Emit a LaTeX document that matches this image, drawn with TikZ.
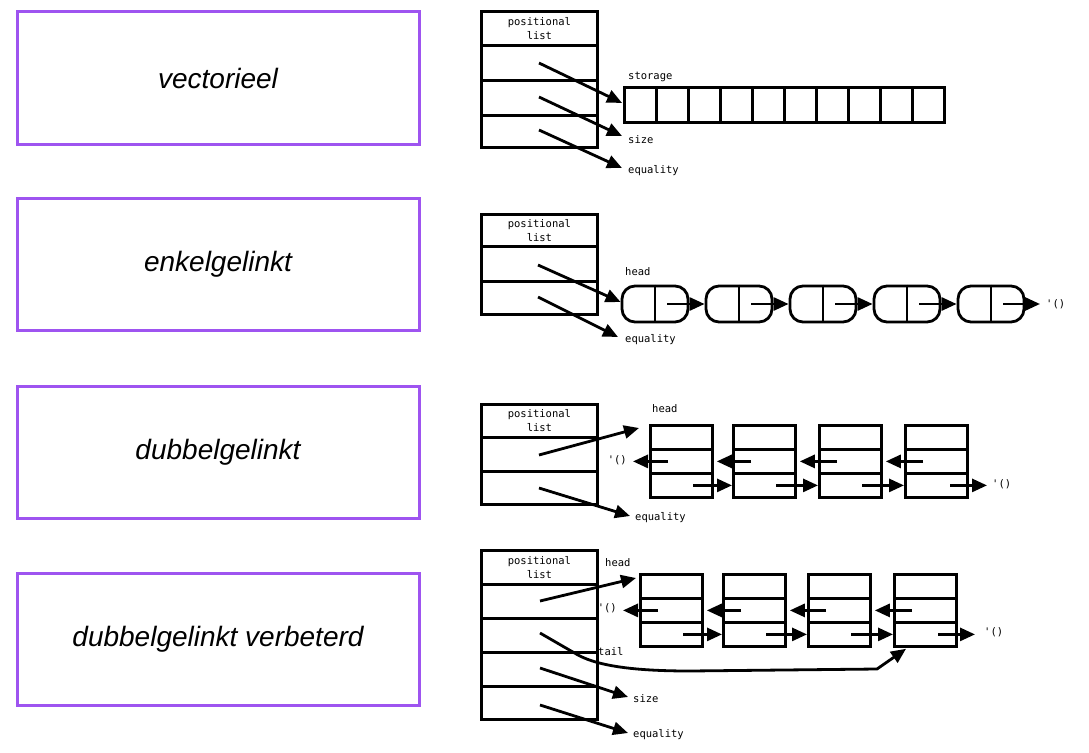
\documentclass[tikz,border=0pt]{standalone}
\usepackage{fontspec}
\newfontfamily\boxfont{Liberation Sans}
\newfontfamily\labfont{DejaVu Sans Mono}
\usetikzlibrary{arrows.meta,calc}
\definecolor{frame}{RGB}{158,84,240}
\newcommand{\nil}{\textquotesingle()}
\begin{document}
\begin{tikzpicture}[x=1pt,y=-1pt,
  title/.style={draw=frame, line width=3pt, minimum width=402pt, minimum height=132pt,
    font=\boxfont\itshape\fontsize{28}{32}\selectfont, inner sep=0pt},
  cell/.style={draw, line width=2.8pt, anchor=north west, inner sep=0pt},
  plcell/.style={cell, minimum width=116pt},
  plhead/.style={plcell, align=center, font=\labfont\fontsize{10.5}{14}\selectfont},
  dcell/.style={cell, minimum width=62pt, minimum height=24pt},
  capsule/.style={draw, line width=2.8pt, rounded corners=13pt, minimum width=66pt,
    minimum height=36pt, inner sep=0pt},
  lab/.style={font=\labfont\fontsize{10.5}{13}\selectfont, inner sep=2pt, anchor=west},
  ptr/.style={line width=2.8pt, -{Triangle[length=15pt,width=13pt]}},
  bar/.style={line width=2.8pt}
]
\useasboundingbox (0,0) rectangle (1089,752);

% ---- left titles
\node[title] (t1) at (218,78) {vectorieel};
\node[title] (t2) at (218,264) {enkelgelinkt};
\node[title] (t3) at (218,452) {dubbelgelinkt};
\node[title] (t4) at (218,639) {dubbelgelinkt verbeterd};

% ================= section 1: vectorieel
\node[plhead, minimum height=34pt] (p1h) at (480,10) {positional\\list};
\node[plcell, minimum height=35pt] (p1a) at (480,44) {};
\node[plcell, minimum height=35pt] (p1b) at (480,79) {};
\node[plcell, minimum height=32pt] (p1c) at (480,114) {};
\foreach \i in {0,...,9}
  \node[cell, minimum width=32pt, minimum height=35pt] (s\i) at ({623+32*\i},86) {};
\node[lab] (stor) at (626,77) {storage};
\node[lab] (size1) at (626,140) {size};
\node[lab] (eq1) at (626,171) {equality};
\coordinate (a1) at (539,63);
\coordinate (a2) at (539,97);
\coordinate (a3) at (539,130);
\draw[ptr] (a1) -- ($(s0.west)+(-1,-2)$);
\draw[ptr] (a2) -- ($(size1.west)+(-4,-4)$);
\draw[ptr] (a3) -- ($(eq1.west)+(-4,-3)$);

% ================= section 2: enkelgelinkt
\node[plhead, minimum height=32pt] (p2h) at (480,213) {positional\\list};
\node[plcell, minimum height=35pt] (p2a) at (480,245) {};
\node[plcell, minimum height=33pt] (p2b) at (480,280) {};
\foreach \i in {1,...,5} {
  \node[capsule] (c\i) at ({655+84*(\i-1)},304) {};
  \draw[bar] (c\i.north) -- (c\i.south);
}
\node[lab] (head2) at (623,272) {head};
\node[lab] (eq2) at (623,340) {equality};
\node[lab] (nil2) at (1044,304) {\nil};
\coordinate (b1) at (538,265);
\coordinate (b2) at (538,297);
\draw[ptr] (b1) -- ($(c1.west)+(0,-2)$);
\draw[ptr] (b2) -- ($(eq2.west)+(-5,-3)$);
\foreach \i/\j in {1/2,2/3,3/4,4/5}
  \draw[ptr] ($(c\i.center)+(12,0)$) -- (c\j.west);
\draw[ptr] ($(c5.center)+(12,0)$) -- ($(c5.center -| nil2.west)+(-4,0)$);

% ================= section 3: dubbelgelinkt
\node[plhead, minimum height=33pt] (p3h) at (480,403) {positional\\list};
\node[plcell, minimum height=34pt] (p3a) at (480,436) {};
\node[plcell, minimum height=33pt] (p3b) at (480,470) {};
\foreach \i/\x in {1/649,2/732,3/818,4/904} {
  \node[dcell] (u3\i) at (\x,424) {};
  \node[dcell] (m3\i) at (\x,448) {};
  \node[dcell] (l3\i) at (\x,472) {};
}
\node[lab] (head3) at (650,409) {head};
\node[lab] (eq3) at (633,518) {equality};
\node[lab, anchor=east] (nl3) at (629,460) {\nil};
\node[lab] (nr3) at (990,484) {\nil};
\coordinate (e1) at (539,455);
\coordinate (e2) at (539,488);
\draw[ptr] (e1) -- ($(u31.north west)+(-10,4)$);
\draw[ptr] (e2) -- ($(eq3.west)+(-3,-2)$);
\draw[ptr] ($(m31.west)+(19,0)$) -- ($(m31.west -| nl3.east)+(4,0)$);
\foreach \i/\j in {2/1,3/2,4/3}
  \draw[ptr] ($(m3\i.west)+(19,0)$) -- ($(m3\j.east)+(3,0)$);
\foreach \i/\j in {1/2,2/3,3/4}
  \draw[ptr] ($(l3\i.west)+(44,0)$) -- (l3\j.west);
\draw[ptr] ($(l34.west)+(46,0)$) -- ($(l34.west -| nr3.west)+(-3,0)$);

% ================= section 4: dubbelgelinkt verbeterd
\node[plhead, minimum height=34pt] (p4h) at (480,549) {positional\\list};
\node[plcell, minimum height=34pt] (p4a) at (480,583) {};
\node[plcell, minimum height=34pt] (p4b) at (480,617) {};
\node[plcell, minimum height=34pt] (p4c) at (480,651) {};
\node[plcell, minimum height=33pt] (p4d) at (480,685) {};
\foreach \i/\x in {1/639,2/722,3/807,4/893} {
  \node[dcell] (u4\i) at (\x,573) {};
  \node[dcell] (m4\i) at (\x,597) {};
  \node[dcell] (l4\i) at (\x,621) {};
}
\node[lab] (head4) at (603,563) {head};
\node[lab] (tail4) at (596,652) {tail};
\node[lab] (size4) at (631,699) {size};
\node[lab] (eq4) at (631,735) {equality};
\node[lab, anchor=east] (nl4) at (619,608) {\nil};
\node[lab] (nr4) at (982,632) {\nil};
\coordinate (f1) at (540,601);
\coordinate (f2) at (540,633);
\coordinate (f3) at (540,668);
\coordinate (f4) at (540,705);
\draw[ptr] (f1) -- ($(u41.north west)+(-3,5)$);
\draw[ptr] (f2) -- (578,655) .. controls (600,667) and (640,671) .. (690,671)
  -- (877,669) -- ($(l44.south west)+(13,1)$);
\draw[ptr] (f3) -- ($(size4.west)+(-3,-2)$);
\draw[ptr] (f4) -- ($(eq4.west)+(-3,-2)$);
\draw[ptr] ($(m41.west)+(19,0)$) -- ($(m41.west -| nl4.east)+(4,0)$);
\foreach \i/\j in {2/1,3/2,4/3}
  \draw[ptr] ($(m4\i.west)+(19,0)$) -- ($(m4\j.east)+(3,0)$);
\foreach \i/\j in {1/2,2/3,3/4}
  \draw[ptr] ($(l4\i.west)+(44,0)$) -- (l4\j.west);
\draw[ptr] ($(l44.west)+(45,0)$) -- ($(l44.west -| nr4.west)+(-7,0)$);
\end{tikzpicture}
\end{document}
